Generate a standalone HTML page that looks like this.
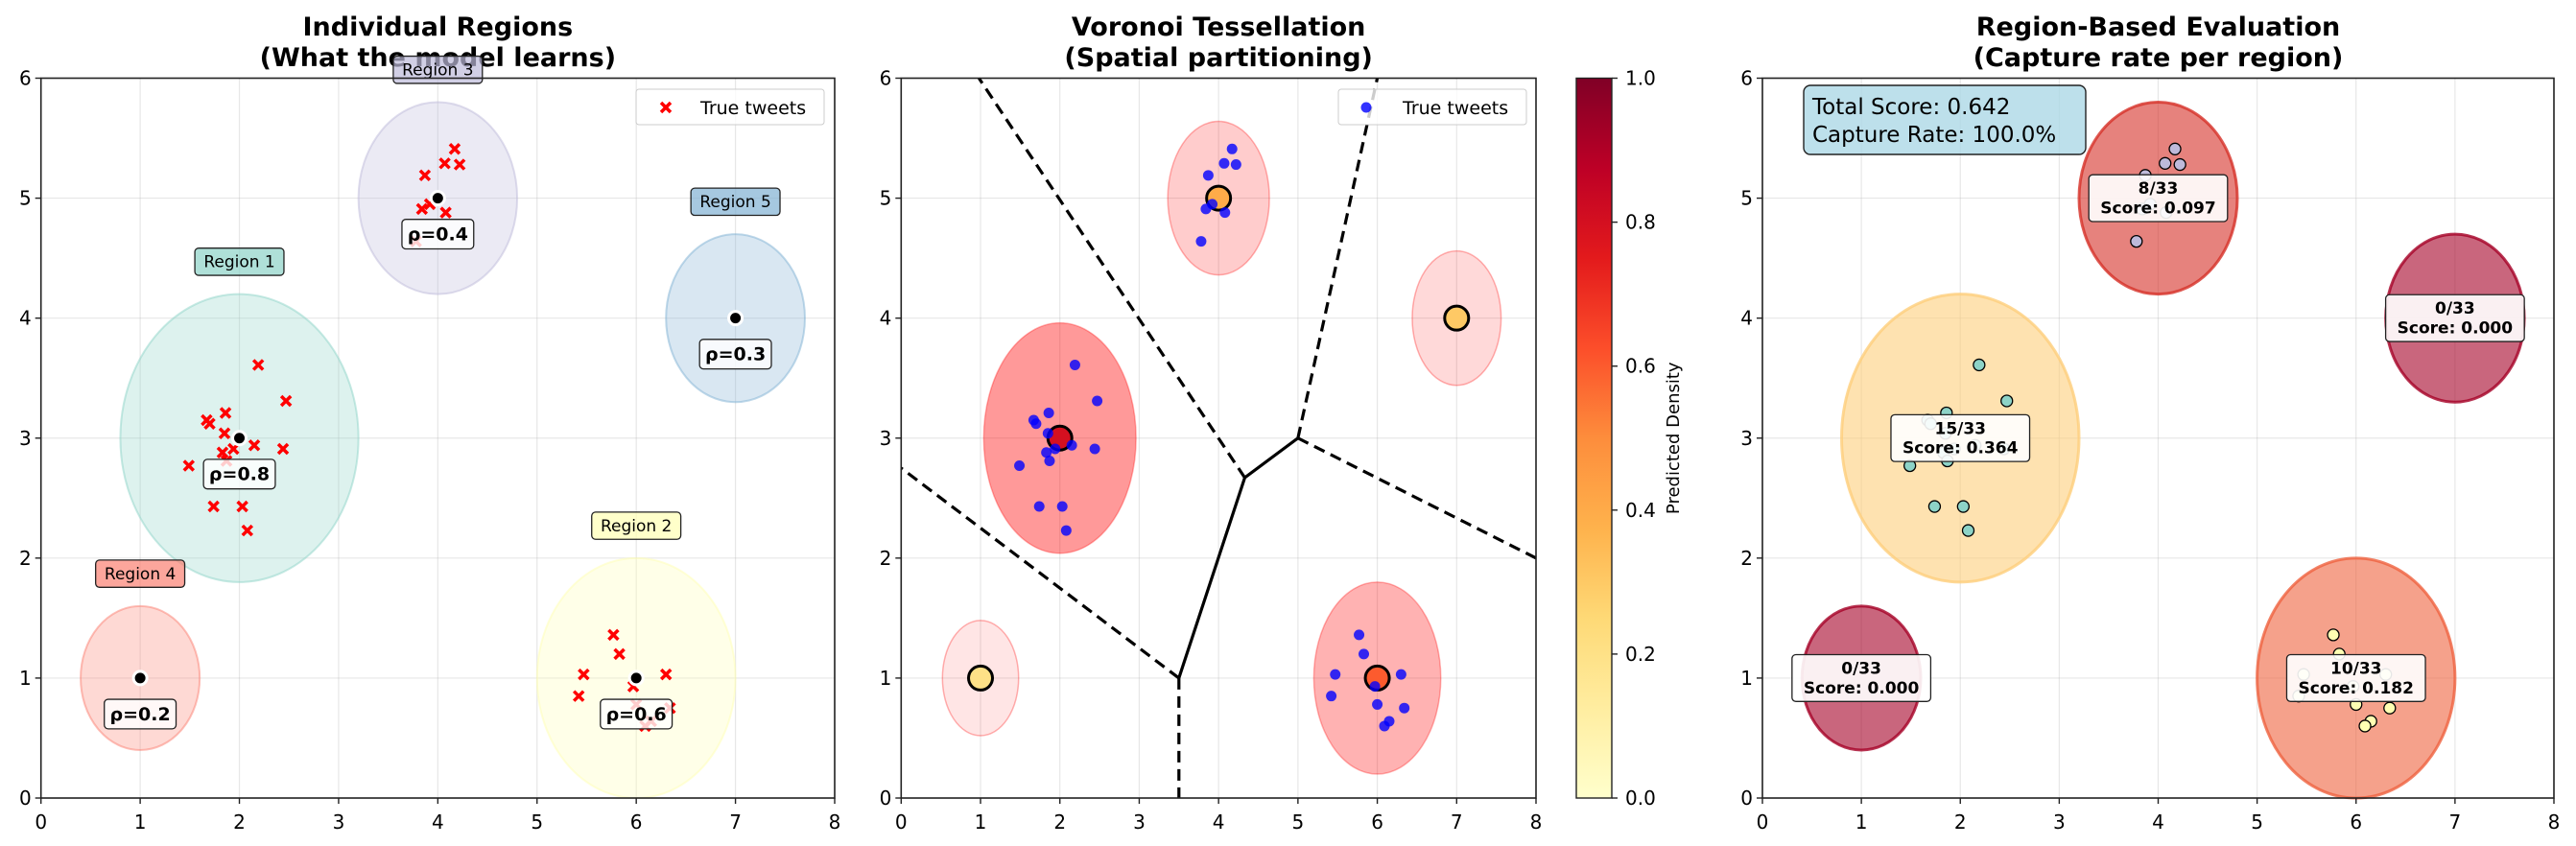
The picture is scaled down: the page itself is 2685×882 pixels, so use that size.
<!DOCTYPE html>
<html><head><meta charset="utf-8"><style>
body{margin:0;background:#fff}
svg{display:block;font-family:"DejaVu Sans","Liberation Sans",sans-serif}
</style></head><body>
<svg id="chart" width="2685" height="882" viewBox="0 0 2685 882" xmlns="http://www.w3.org/2000/svg">
<defs>
<linearGradient id="ylorrd" x1="0" y1="1" x2="0" y2="0">
<stop offset="0" stop-color="#ffffcc"/><stop offset="0.125" stop-color="#ffeda0"/><stop offset="0.25" stop-color="#fed976"/><stop offset="0.375" stop-color="#feb24c"/><stop offset="0.5" stop-color="#fd8d3c"/><stop offset="0.625" stop-color="#fc4e2a"/><stop offset="0.75" stop-color="#e31a1c"/><stop offset="0.875" stop-color="#bd0026"/><stop offset="1" stop-color="#800026"/>
</linearGradient>
</defs>
</svg>
<script>
const regionNames=["Region 1","Region 2","Region 3","Region 4","Region 5"];
const centersX=[2,6,4,1,7];
const centersY=[3,1,5,1,4];
const radii=[1.2,1.0,0.8,0.6,0.7];
const densities=[0.8,0.6,0.4,0.2,0.3];
const captured=["15/33","10/33","8/33","0/33","0/33"];
const scores=[0.364,0.182,0.097,0.000,0.000];
const tweetsX=[1.67,1.70,1.86,1.85,1.83,1.94,1.87,2.15,2.44,2.47,2.19,1.49,1.74,2.03,2.08, 5.77,5.83,5.47,6.30,5.97,5.42,6.00,6.34,6.15,6.09, 4.17,4.07,4.22,3.87,3.92,3.84,4.08,3.78];
const tweetsY=[3.15,3.12,3.21,3.04,2.88,2.91,2.81,2.94,2.91,3.31,3.61,2.77,2.43,2.43,2.23, 1.36,1.20,1.03,1.03,0.93,0.85,0.78,0.75,0.64,0.60, 5.41,5.29,5.28,5.19,4.95,4.91,4.88,4.64];
const tweetRegion=[0,0,0,0,0,0,0,0,0,0,0,0,0,0,0, 1,1,1,1,1,1,1,1,1,1, 2,2,2,2,2,2,2,2];
const xTicks=[0,1,2,3,4,5,6,7,8];
const yTicks=[0,1,2,3,4,5,6];
const cbTicks=[0.0,0.2,0.4,0.6,0.8,1.0];
const totalScore="0.642", captureRate="100.0%";
const vorVertX=[3.5,4.33,5.0];
const vorVertY=[1.0,2.67,3.0];
const vorDashX=[[3.5,3.5],[3.5,0],[4.33,0.98],[5,6.0],[5,8]];
const vorDashY=[[1,0],[1,2.75],[2.67,6],[3,6],[3,2]];

const set3=["#8dd3c7","#ffffb3","#bebada","#fb8072","#80b1d3"];
const NS="http://www.w3.org/2000/svg";
const svg=document.getElementById('chart');
function mk(tag,attrs,parent){const e=document.createElementNS(NS,tag);for(const k in attrs)e.setAttribute(k,attrs[k]);(parent||svg).appendChild(e);return e;}
function txt(s,attrs,parent){const e=mk('text',attrs,parent);e.textContent=s;return e;}
const TOP=81.5,BOT=832;
function makeAxes(x0,x1){return {x:v=>x0+(x1-x0)*v/8,y:v=>BOT-(BOT-TOP)*v/6,sx:(x1-x0)/8,sy:(BOT-TOP)/6,x0,x1};}
function interp(c,t){const p=Math.max(0,Math.min(1,t))*(c.length-1),i=Math.min(c.length-2,Math.floor(p)),f=p-i;const a=h=>[1,3,5].map(j=>parseInt(h.substr(j,2),16));const A=a(c[i]),B=a(c[i+1]);return `rgb(${A.map((v,k)=>Math.round(v+(B[k]-v)*f)).join(',')})`;}
function ylorrd(t){return interp(["#ffffcc","#ffeda0","#fed976","#feb24c","#fd8d3c","#fc4e2a","#e31a1c","#bd0026","#800026"],t);}
function rdylgn(t){return interp(["#a50026","#d73027","#f46d43","#fdae61","#fee08b","#ffffbf","#d9ef8b","#a6d96a","#66bd63","#1a9850","#006837"],t);}
function frame(ax,name,title1,title2){
  const g=mk('g',{});
  xTicks.forEach(v=>{const l=mk('line',{x1:ax.x(v),x2:ax.x(v),y1:TOP,y2:BOT,stroke:'#b0b0b0','stroke-opacity':0.3,'stroke-width':1.2},g);});
  yTicks.forEach(v=>{const l=mk('line',{x1:ax.x0,x2:ax.x1,y1:ax.y(v),y2:ax.y(v),stroke:'#b0b0b0','stroke-opacity':0.3,'stroke-width':1.2},g);});
  const t=txt(title1,{x:(ax.x0+ax.x1)/2,y:37,'text-anchor':'middle','font-size':27,'font-weight':'bold'});
  const t2=txt(title2,{x:(ax.x0+ax.x1)/2,y:69,'text-anchor':'middle','font-size':27,'font-weight':'bold'});
  return g;
}
function axesBorder(ax){
  const r=mk('rect',{x:ax.x0,y:TOP,width:ax.x1-ax.x0,height:BOT-TOP,fill:'none',stroke:'#222','stroke-width':1.6});
  xTicks.forEach(v=>{mk('line',{x1:ax.x(v),x2:ax.x(v),y1:BOT,y2:BOT+6,stroke:'#222','stroke-width':1.4});const t=txt(String(v),{x:ax.x(v),y:BOT+32,'text-anchor':'middle','font-size':20});});
  yTicks.forEach(v=>{mk('line',{x1:ax.x0-6,x2:ax.x0,y1:ax.y(v),y2:ax.y(v),stroke:'#222','stroke-width':1.4});const t=txt(String(v),{x:ax.x0-10,y:ax.y(v)+7,'text-anchor':'end','font-size':20});});
}
function labelBox(s,lines,cx,cy,fill,fo,size,bold,name){
  const g=mk('g',{});
  const w=Math.max(...lines.map(l=>l.length))*size*(bold?0.64:0.58)+14, lh=size*1.2, h=lines.length*lh+8;
  mk('rect',{x:cx-w/2,y:cy-h/2,width:w,height:h,rx:4,fill:fill,'fill-opacity':fo,stroke:'#222','stroke-width':1.3},g);
  lines.forEach((l,i)=>txt(l,{x:cx,y:cy-h/2+4+lh*(i+0.78),'text-anchor':'middle','font-size':size,'font-weight':bold?'bold':'normal'},g));
  return g;
}
// Panel 1
const A1=makeAxes(42.7,870);
frame(A1,'panel-individual-regions','Individual Regions','(What the model learns)');
regionNames.forEach((n,i)=>{const e=mk('ellipse',{cx:A1.x(centersX[i]),cy:A1.y(centersY[i]),rx:radii[i]*A1.sx,ry:radii[i]*A1.sy,fill:set3[i],'fill-opacity':0.3,stroke:set3[i],'stroke-opacity':0.5,'stroke-width':2});});
tweetsX.forEach((x,i)=>{const cx=A1.x(x),cy=A1.y(tweetsY[i]),d=5;const p=mk('path',{d:`M${cx-d} ${cy-d}L${cx+d} ${cy+d}M${cx-d} ${cy+d}L${cx+d} ${cy-d}`,stroke:'#ff0000','stroke-width':3.5});});
regionNames.forEach((n,i)=>{const c=mk('circle',{cx:A1.x(centersX[i]),cy:A1.y(centersY[i]),r:7,fill:'#000',stroke:'#fff','stroke-width':3});});
regionNames.forEach((n,i)=>{labelBox('',['ρ='+densities[i]],A1.x(centersX[i]),A1.y(centersY[i]-0.3),'#fff',0.8,19,true,'density-label');});
regionNames.forEach((n,i)=>{labelBox('',[n],A1.x(centersX[i]),A1.y(centersY[i]+radii[i]+0.27),set3[i],0.7,17,false,'region-name-label');});
axesBorder(A1);
(function(){const g=mk('g',{});mk('rect',{x:663,y:93,width:196,height:37,rx:3,fill:'#fff','fill-opacity':0.8,stroke:'#ccc'},g);const cx=694,cy=112,d=5;mk('path',{d:`M${cx-d} ${cy-d}L${cx+d} ${cy+d}M${cx-d} ${cy+d}L${cx+d} ${cy-d}`,stroke:'#f00','stroke-width':3.5},g);txt('True tweets',{x:730,y:119,'font-size':19},g);})();

// Panel 2
const A2=makeAxes(939.3,1601);
frame(A2,'panel-voronoi','Voronoi Tessellation','(Spatial partitioning)');
regionNames.forEach((n,i)=>{const e=mk('ellipse',{cx:A2.x(centersX[i]),cy:A2.y(centersY[i]),rx:radii[i]*0.8*A2.sx,ry:radii[i]*0.8*A2.sy,fill:'#ff0000','fill-opacity':densities[i]*0.5,stroke:'#ff0000','stroke-opacity':0.3,'stroke-width':1.5});});
vorDashX.forEach((xs,i)=>{const l=mk('line',{x1:A2.x(xs[0]),y1:A2.y(vorDashY[i][0]),x2:A2.x(xs[1]),y2:A2.y(vorDashY[i][1]),stroke:'#000','stroke-width':3.2,'stroke-dasharray':'12 7'});});
(function(){const p=mk('polyline',{points:vorVertX.map((x,i)=>A2.x(x)+','+A2.y(vorVertY[i])).join(' '),fill:'none',stroke:'#000','stroke-width':3.2});})();
regionNames.forEach((n,i)=>{const c=mk('circle',{cx:A2.x(centersX[i]),cy:A2.y(centersY[i]),r:12.5,fill:ylorrd(densities[i]),stroke:'#000','stroke-width':3});});
tweetsX.forEach((x,i)=>{const c=mk('circle',{cx:A2.x(x),cy:A2.y(tweetsY[i]),r:5.5,fill:'#0000ff','fill-opacity':0.8});});
axesBorder(A2);
(function(){const g=mk('g',{});mk('rect',{x:1395,y:93,width:196,height:37,rx:3,fill:'#fff','fill-opacity':0.8,stroke:'#ccc'},g);mk('circle',{cx:1424,cy:112,r:5.5,fill:'#00f','fill-opacity':0.8},g);txt('True tweets',{x:1462,y:119,'font-size':19},g);})();
(function(){const g=mk('g',{});mk('rect',{x:1643,y:TOP,width:37,height:BOT-TOP,fill:'url(#ylorrd)',stroke:'#222','stroke-width':1.4},g);
cbTicks.forEach(v=>{const y=BOT-(BOT-TOP)*v;mk('line',{x1:1680,x2:1686,y1:y,y2:y,stroke:'#222','stroke-width':1.4},g);const t=txt(v.toFixed(1),{x:1694,y:y+7,'font-size':20},g);});
const t=txt('Predicted Density',{x:0,y:0,'text-anchor':'middle','font-size':18,transform:`translate(1750,${(TOP+BOT)/2}) rotate(-90)`},g);})();

// Panel 3
const A3=makeAxes(1837,2662);
frame(A3,'panel-region-evaluation','Region-Based Evaluation','(Capture rate per region)');
regionNames.forEach((n,i)=>{const col=rdylgn(scores[i]);const e=mk('ellipse',{cx:A3.x(centersX[i]),cy:A3.y(centersY[i]),rx:radii[i]*A3.sx,ry:radii[i]*A3.sy,fill:col,'fill-opacity':0.6,stroke:col,'stroke-opacity':0.8,'stroke-width':3});});
tweetsX.forEach((x,i)=>{const c=mk('circle',{cx:A3.x(x),cy:A3.y(tweetsY[i]),r:6,fill:set3[tweetRegion[i]],stroke:'#000','stroke-width':1.3});});
regionNames.forEach((n,i)=>{labelBox('',[captured[i],'Score: '+scores[i].toFixed(3)],A3.x(centersX[i]),A3.y(centersY[i]),'#fff',0.9,17,true,'score-label');});
axesBorder(A3);
(function(){const g=mk('g',{});mk('rect',{x:1880,y:89,width:294,height:72,rx:7,fill:'#add8e6','fill-opacity':0.8,stroke:'#222','stroke-width':1.4},g);txt('Total Score: '+totalScore,{x:1889,y:119,'font-size':23},g);txt('Capture Rate: '+captureRate,{x:1889,y:148,'font-size':23},g);})();
</script>
</body></html>
